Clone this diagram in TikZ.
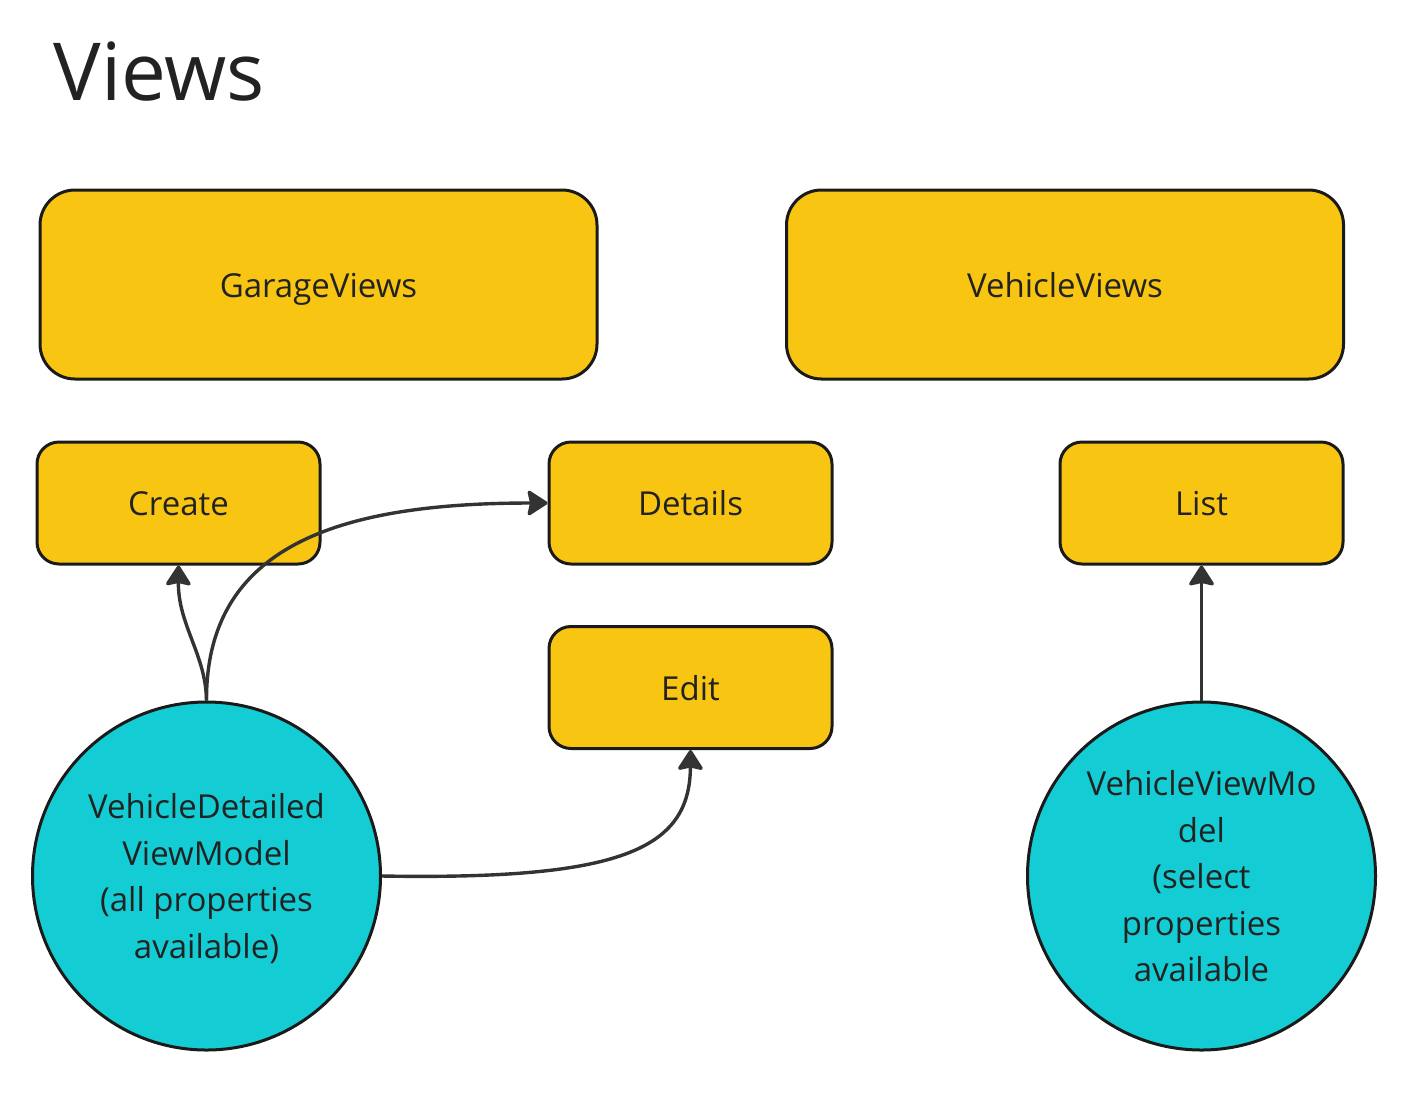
\documentclass[tikz,border=0pt]{standalone}
\usepackage{fontspec}
\setmainfont{Open Sans}
\usetikzlibrary{arrows.meta}
\definecolor{boxyellow}{HTML}{F8C612}
\definecolor{circcyan}{HTML}{14CDD4}
\definecolor{edge}{HTML}{1A1A1A}
\definecolor{arrowgray}{HTML}{333333}
\definecolor{txt}{HTML}{222222}
\begin{document}
\begin{tikzpicture}[x=0.5pt,y=-0.5pt,
  bigbox/.style={draw=edge,fill=boxyellow,line width=1.5pt,rounded corners=17.5pt,
    minimum width=278.5pt,minimum height=94.5pt,inner sep=0pt,text=txt,
    text height=16pt,text depth=3.5pt,
    font=\fontsize{16.5}{23.25}\selectfont},
  smallbox/.style={draw=edge,fill=boxyellow,line width=1.5pt,rounded corners=11pt,
    minimum width=141.5pt,minimum height=61pt,inner sep=0pt,text=txt,
    text height=16pt,text depth=3.5pt,
    font=\fontsize{16.5}{23.25}\selectfont},
  circ/.style={circle,draw=edge,fill=circcyan,line width=1.5pt,minimum size=174pt,
    inner sep=0pt,align=center,text=txt,text depth=0pt,font=\fontsize{16.5}{23.25}\selectfont},
  conn/.style={draw=arrowgray,line width=1.7pt,-{Stealth[length=11pt,width=14pt,inset=1.5pt,round]}}]
\useasboundingbox (0,0) rectangle (1406,1110);
\node[anchor=base west,inner sep=0pt,text=txt,font=\fontsize{40}{48}\selectfont] (title) at (53,100) {Views};
\node[bigbox] (garage) at (318.5,284.5) {GarageViews};
\node[bigbox] (vehicle) at (1065,284.5) {VehicleViews};
\node[smallbox] (create) at (178.5,503) {Create};
\node[smallbox] (details) at (690.5,503) {Details};
\node[smallbox] (list) at (1201.5,503) {List};
\node[smallbox] (edit) at (690.5,687.5) {Edit};
\node[circ] (vdvm) at (206.5,876) {VehicleDetailed\\ViewModel\\(all properties\\available)};
\node[circ] (vvm) at (1201.5,876) {VehicleViewMo\\del\\(select\\properties\\available};
\draw[conn] (vdvm.north) .. controls (206,655) and (178,625) .. (create.south);
\draw[conn] (vdvm.north) .. controls (206,545) and (340,503) .. (details.west);
\draw[conn] (vdvm.east) .. controls (620,880) and (690,850) .. (edit.south);
\draw[conn] (vvm.north) -- (list.south);
\end{tikzpicture}
\end{document}
